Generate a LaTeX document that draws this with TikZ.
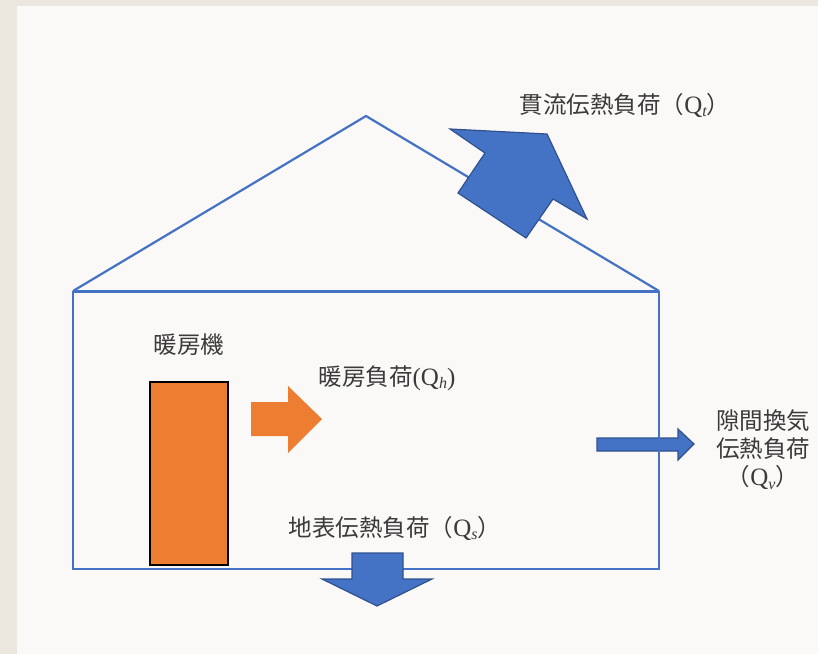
\documentclass[tikz,border=0pt]{standalone}
\usepackage{fontspec}
\newfontfamily\cjk{Noto Sans CJK JP}
\newfontfamily\latin{Liberation Serif}
\newcommand\Qsub[1]{{\latin\fontsize{25}{25}\selectfont Q\raisebox{-0.3ex}{\fontsize{16}{16}\selectfont\itshape #1}}}
\definecolor{beige}{HTML}{EBE6DE}
\definecolor{paper}{HTML}{FAF9F7}
\definecolor{houseblue}{HTML}{4472C4}
\definecolor{darkblue}{HTML}{2F528F}
\definecolor{heaterorange}{HTML}{ED7D31}
\definecolor{txt}{HTML}{3A3A3A}
\begin{document}
\begin{tikzpicture}[x=1pt,y=-1pt,
  houseline/.style={draw=houseblue,line width=2.2pt,line join=miter},
  bluearrow/.style={fill=houseblue,draw=darkblue,line width=1.2pt,line join=miter},
  orangearrow/.style={fill=heaterorange,draw=none},
  label/.style={text=txt,font=\cjk\fontsize{23.5}{28}\selectfont,inner sep=0pt,align=center}]
\useasboundingbox (0,0) rectangle (818,654);
\fill[beige] (0,0) rectangle (818,654);
\fill[paper] (17,6) rectangle (818,654);
% right arrow (below the wall line)
\draw[bluearrow] (597,438) -- (678,438) -- (678,429) -- (694,444) -- (678,460) -- (678,451) -- (597,451) -- cycle;
% house
\coordinate (bl) at (73,569);
\coordinate (br) at (659,569);
\coordinate (tl) at (73,291);
\coordinate (tr) at (659,291);
\coordinate (apex) at (366,116);
\draw[houseline] (tl) -- (apex) -- (tr);
\draw[houseline] (tl) -- (bl) -- (br) -- (tr);
\draw[houseline,line width=3pt] (tl) -- (tr);
% heater
\node[draw=black,line width=2.5pt,fill=heaterorange,minimum width=78pt,minimum height=183pt,inner sep=0pt] (heater) at (189,473.5) {};
% orange arrow
\fill[orangearrow] (251,402) -- (288,402) -- (288,386) -- (322,419) -- (288,453) -- (288,436) -- (251,436) -- cycle;
% roof arrow
\draw[bluearrow] (450,129) -- (547,134) -- (587,219) -- (553,199) -- (526,238) -- (458,193) -- (485,153) -- cycle;
% bottom arrow
\draw[bluearrow] (352,553) -- (403,553) -- (403,579) -- (432,579) -- (377,606) -- (322,579) -- (352,579) -- cycle;
% labels
\node[label] (lt) at (625,105) {貫流伝熱負荷（\Qsub{t}）};
\node[label] (lheater) at (189,345) {暖房機};
\node[label] (lh) at (387,378) {暖房負荷{\latin\fontsize{25}{25}\selectfont(}\Qsub{h}{\latin\fontsize{25}{25}\selectfont)}};
\node[label] (lv) at (763,450) {隙間換気\\伝熱負荷\\（\Qsub{v}）};
\node[label] (ls) at (395,528) {地表伝熱負荷（\Qsub{s}）};
\end{tikzpicture}
\end{document}
